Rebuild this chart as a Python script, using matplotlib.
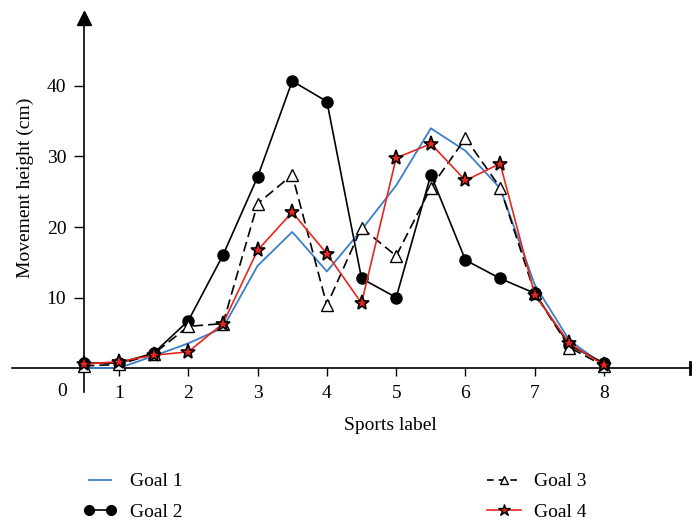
import matplotlib
matplotlib.use("Agg")
import matplotlib.pyplot as plt
from matplotlib.lines import Line2D

plt.rcParams["font.family"] = ["Liberation Serif", "DejaVu Serif"]

# sports label positions (half steps)
x_vals = [0.5, 1.0, 1.5, 2.0, 2.5, 3.0, 3.5, 4.0, 4.5, 5.0, 5.5, 6.0, 6.5, 7.0, 7.5, 8.0]

goal1 = [0.0, 0.0, 1.7, 3.5, 5.7, 14.5, 19.3, 13.7, 19.6, 25.9, 34.0, 30.8, 25.5, 11.8, 3.9, 0.4]
goal2 = [0.7, 0.7, 2.1, 6.7, 16.0, 27.1, 40.7, 37.8, 12.7, 10.0, 27.4, 15.3, 12.7, 10.6, 3.2, 0.7]
goal3 = [0.3, 0.5, 2.0, 5.9, 6.3, 23.3, 27.4, 8.9, 19.9, 15.9, 25.6, 32.6, 25.6, 10.6, 2.9, 0.3]
goal4 = [0.55, 0.9, 1.8, 2.3, 6.3, 16.7, 22.1, 16.2, 9.2, 29.8, 31.8, 26.6, 29.0, 10.4, 3.5, 0.4]

x_ticks = [1, 2, 3, 4, 5, 6, 7, 8]
y_ticks = [10, 20, 30, 40]

BLUE = "#3a7fc8"
RED = "#e8261c"

W, H = 693, 526
fig = plt.figure(figsize=(W / 100, H / 100), dpi=100)

# pixel layout of the data area
x_lim = (-0.55, 9.25)
y_lim = (-3.5, 51)
px_x, px_y = 69.3, 7.05           # pixels per data unit
x1_px, y0_px = 119, 368           # pixel of x=1, y=0
left = x1_px + (x_lim[0] - 1) * px_x
right = x1_px + (x_lim[1] - 1) * px_x
top = y0_px - y_lim[1] * px_y
bottom = y0_px - y_lim[0] * px_y
ax = fig.add_axes([left / W, 1 - bottom / H, (right - left) / W, (bottom - top) / H])
ax.set_xlim(*x_lim)
ax.set_ylim(*y_lim)
ax.patch.set_visible(False)

ax.plot(x_vals, goal1, color=BLUE, lw=1.3, zorder=3)
ax.plot(x_vals, goal2, color="black", lw=1.2, marker="o", ms=8, zorder=4)
ax.plot(x_vals, goal3, color="black", lw=1.2, ls=(0, (6, 3)), marker="^",
        ms=8, mfc="white", mec="black", mew=1.0, zorder=5)
ax.plot(x_vals, goal4, color=RED, lw=1.2, marker="*", ms=11,
        mfc=RED, mec="black", mew=1.2, zorder=6)

# axes drawn as crossing lines
for s in ["top", "right"]:
    ax.spines[s].set_visible(False)
ax.spines["bottom"].set_position(("data", 0))
ax.spines["left"].set_position(("data", 0.5))
ax.spines["left"].set_bounds(-3.4, 49)
for s in ["bottom", "left"]:
    ax.spines[s].set_linewidth(1.2)
ax.plot(0.5, 49.6, marker="^", ms=10, color="black", clip_on=False, zorder=7)
ax.plot([x_lim[1] - 0.01] * 2, [-0.9, 0.9], color="black", lw=2, clip_on=False)

ax.set_xticks(x_ticks)
ax.set_yticks(y_ticks)
ax.tick_params(axis="x", direction="out", length=6, width=1.0, pad=6, labelsize=14)
ax.tick_params(axis="y", direction="out", length=7, width=1.0, pad=6, labelsize=14)
ax.text(0.18, -3.4, "0", ha="center", va="center", fontsize=14)

fig.text(25 / W, 1 - 188 / H, "Movement height (cm)", rotation=90,
         ha="center", va="center", fontsize=14)
fig.text(390 / W, 1 - 425 / H, "Sports label", ha="center", va="center", fontsize=14)

h1 = Line2D([], [], color=BLUE, lw=1.3)
h2 = Line2D([], [], color="black", lw=1.2, marker="o", ms=7)
h3 = Line2D([], [], color="black", lw=1.2, ls=(0, (4, 3)), marker="^", ms=6,
            mfc="white", mec="black")
h4 = Line2D([], [], color=RED, lw=1.2, marker="*", ms=9, mfc=RED, mec="black")

leg_kw = dict(frameon=False, fontsize=14, handlelength=1.75, handletextpad=0.65,
              labelspacing=0.68, borderpad=0, borderaxespad=0, loc="center left")
leg1 = fig.legend([h1, h2], ["Goal 1", "Goal 2"], numpoints=2,
                  bbox_to_anchor=(83 / W, 1 - 497 / H), **leg_kw)
leg2 = fig.legend([h3, h4], ["Goal 3", "Goal 4"], numpoints=1,
                  bbox_to_anchor=(487 / W, 1 - 497 / H), **leg_kw)

fig.savefig("out.png", dpi=100)
